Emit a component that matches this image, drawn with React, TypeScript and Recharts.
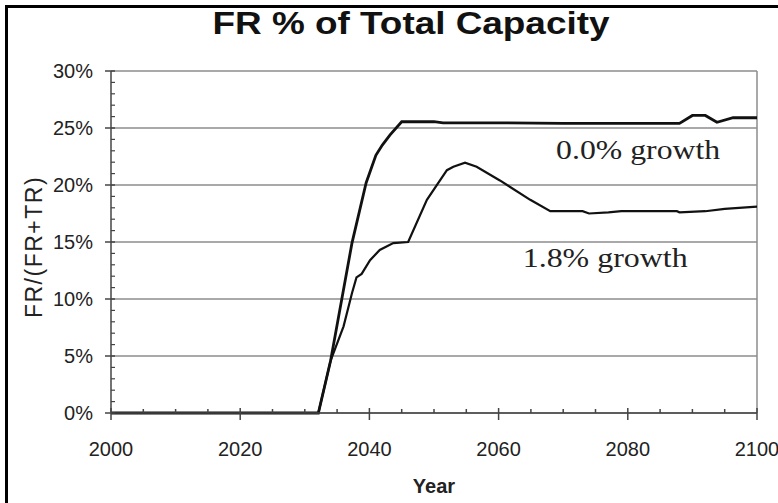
import React from 'react';
import {
  CartesianGrid,
  Line,
  LineChart,
  ReferenceDot,
  ReferenceLine,
  XAxis,
  YAxis,
} from 'recharts';

// 0.0% growth scenario
const zeroYears = [2000, 2032.1, 2034, 2037.3, 2039.5, 2041, 2042, 2043.2, 2045, 2050, 2051.4, 2060, 2070, 2088, 2090, 2092, 2093.8, 2096.3, 2100];
const zeroShare = [0, 0, 4.6, 14.9, 20.2, 22.6, 23.5, 24.4, 25.55, 25.55, 25.45, 25.45, 25.4, 25.4, 26.1, 26.1, 25.5, 25.9, 25.9];

// 1.8% growth scenario
const growthYears = [2000, 2032.1, 2034, 2036, 2037.3, 2038, 2038.8, 2040.1, 2041.6, 2043.7, 2046, 2048.9, 2052, 2053, 2054.8, 2056.6, 2060.2, 2064.9, 2068, 2073, 2074, 2077, 2079, 2087.6, 2088, 2092, 2095, 2100];
const growthShare = [0, 0, 4.6, 7.6, 10.5, 11.9, 12.2, 13.4, 14.3, 14.9, 15.0, 18.7, 21.3, 21.6, 21.96, 21.6, 20.4, 18.7, 17.7, 17.7, 17.5, 17.6, 17.7, 17.7, 17.6, 17.7, 17.9, 18.1];

const yearTicks = [2000, 2020, 2040, 2060, 2080, 2100];
const allYearTicks = [2000, 2005, 2010, 2015, 2020, 2025, 2030, 2035, 2040, 2045, 2050, 2055, 2060, 2065, 2070, 2075, 2080, 2085, 2090, 2095, 2100];
const shareTicks = [0, 5, 10, 15, 20, 25, 30];
const allShareTicks = [0, 1, 2, 3, 4, 5, 6, 7, 8, 9, 10, 11, 12, 13, 14, 15, 16, 17, 18, 19, 20, 21, 22, 23, 24, 25, 26, 27, 28, 29, 30];

const zeroData = zeroYears.map((year, i) => ({ year, v: zeroShare[i] }));
const growthData = growthYears.map((year, i) => ({ year, v: growthShare[i] }));

const sans = '"Liberation Sans", Arial, sans-serif';
const serif = '"Liberation Serif", "Times New Roman", serif';
const axisColor = '#444';

const X_TICK = 7;
const X_MARGIN = 22;
const Y_TICK = 6;
const Y_MARGIN = 12;

const YearTick = ({ x, y, payload }: any) => {
  const axisY = y - X_TICK - X_MARGIN;
  const major = yearTicks.includes(payload.value);
  return (
    <g>
      <line x1={x} x2={x} y1={major ? axisY - 5 : axisY - 4} y2={major ? axisY + X_TICK : axisY} stroke={axisColor} strokeWidth={1.5} />
      {major && (
        <text x={x} y={y} dy="0.71em" textAnchor="middle" fill="#222" fontSize={20} fontFamily={sans}>
          {payload.value}
        </text>
      )}
    </g>
  );
};

const ShareTick = ({ x, y, payload }: any) => {
  const axisX = x + Y_TICK + Y_MARGIN;
  const major = shareTicks.includes(payload.value);
  return (
    <g>
      <line x1={major ? axisX - Y_TICK : axisX} x2={axisX + 4} y1={y} y2={y} stroke={axisColor} strokeWidth={major ? 1.5 : 1.2} />
      {major && (
        <text x={x} y={y} dy="0.355em" textAnchor="end" fill="#222" fontSize={20} fontFamily={sans}>
          {`${payload.value}%`}
        </text>
      )}
    </g>
  );
};

const Note = ({ viewBox, value, length }: any) => (
  <text
    x={viewBox.x}
    y={viewBox.y}
    dy="0.35em"
    textAnchor="middle"
    fill="#222"
    fontSize={27}
    fontFamily={serif}
    textLength={length}
    lengthAdjust="spacingAndGlyphs"
  >
    {value}
  </text>
);

export default function App() {
  return (
    <div style={{ position: 'absolute', left: 0, top: 0, width: 778, height: 503, background: '#fff', overflow: 'hidden' }}>
      <div
        style={{
          position: 'absolute',
          left: 5,
          top: 5,
          width: 800,
          height: 520,
          borderLeft: '3px solid #000',
          borderTop: '3px solid #000',
        }}
      />
      <div
        style={{
          position: 'absolute',
          left: 0,
          width: 822,
          top: 6,
          textAlign: 'center',
          fontFamily: sans,
          fontWeight: 'bold',
          fontSize: 31,
          color: '#111',
          transform: 'scaleX(1.19)',
          transformOrigin: '411px 0',
        }}
      >
        FR % of Total Capacity
      </div>
      <div
        style={{
          position: 'absolute',
          left: 34 - 100,
          top: 247 - 14,
          width: 200,
          height: 28,
          lineHeight: '28px',
          textAlign: 'center',
          transform: 'rotate(-90deg)',
          fontFamily: sans,
          fontSize: 23,
          letterSpacing: 1.5,
          color: '#222',
        }}
      >
        FR/(FR+TR)
      </div>
      <div
        style={{
          position: 'absolute',
          left: 384,
          width: 100,
          top: 475,
          textAlign: 'center',
          fontFamily: sans,
          fontWeight: 'bold',
          fontSize: 20,
          color: '#222',
        }}
      >
        Year
      </div>
      <div style={{ position: 'absolute', left: 0, top: 0 }}>
        <LineChart width={778} height={503} margin={{ top: 71, right: 21, bottom: 0, left: 0 }}>
          <CartesianGrid horizontal vertical={false} horizontalValues={shareTicks} stroke="#8c8c8c" strokeWidth={1.5} />
          <XAxis
            dataKey="year"
            type="number"
            domain={[2000, 2100]}
            ticks={allYearTicks}
            interval={0}
            allowDataOverflow
            height={90}
            tickSize={X_TICK}
            tickMargin={X_MARGIN}
            tick={<YearTick />}
            tickLine={false}
            axisLine={{ stroke: axisColor, strokeWidth: 1.5 }}
          />
          <YAxis
            type="number"
            domain={[0, 30]}
            ticks={allShareTicks}
            interval={0}
            width={111}
            tickSize={Y_TICK}
            tickMargin={Y_MARGIN}
            tick={<ShareTick />}
            tickLine={false}
            axisLine={{ stroke: axisColor, strokeWidth: 1.5 }}
          />
          <ReferenceLine x={2100} stroke="#8c8c8c" strokeWidth={1.5} />
          <Line
            data={zeroData}
            dataKey="v"
            type="linear"
            stroke="#111"
            strokeWidth={2.8}
            dot={false}
            isAnimationActive={false}
          />
          <Line
            data={growthData}
            dataKey="v"
            type="linear"
            stroke="#111"
            strokeWidth={2.2}
            dot={false}
            isAnimationActive={false}
          />
          <ReferenceDot x={2081.6} y={23.1} r={0} stroke="none" label={<Note value="0.0% growth" length={164} />} />
          <ReferenceDot x={2076.5} y={13.6} r={0} stroke="none" label={<Note value="1.8% growth" length={165} />} />
        </LineChart>
      </div>
    </div>
  );
}
